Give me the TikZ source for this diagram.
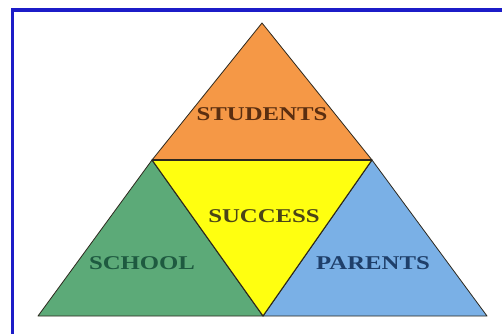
\documentclass[tikz,border=0pt]{standalone}
\usepackage{graphicx}
\usepackage{fontspec}
\setmainfont{Liberation Serif}
\definecolor{orangeF}{RGB}{245,152,70}
\definecolor{greenF}{RGB}{92,170,120}
\definecolor{blueF}{RGB}{122,176,230}
\definecolor{yellowF}{RGB}{255,255,16}
\definecolor{frameB}{RGB}{28,28,200}
\definecolor{edgeC}{RGB}{45,40,30}
\definecolor{txtS}{RGB}{90,46,16}
\definecolor{txtY}{RGB}{74,68,24}
\definecolor{txtG}{RGB}{30,90,64}
\definecolor{txtB}{RGB}{31,63,106}
\newcommand\stretchlbl[1]{\scalebox{1.27}[1]{#1}}
\tikzset{
  tri/.style={draw=edgeC, line width=0.8pt, line join=round},
  lbl/.style={inner sep=0pt, text depth=0pt, font=\fontsize{19.5}{20}\selectfont\bfseries, anchor=center}
}
\begin{document}
\begin{tikzpicture}[x=1pt,y=1pt]
\useasboundingbox (0,0) rectangle (502,333);
\fill[white] (0,0) rectangle (502,333);
% frame
\draw[frameB, line width=3pt] (12,-10) -- (12,323) -- (520,323);
% points
\coordinate (A) at (262,310);
\coordinate (L) at (152,173);
\coordinate (R) at (372,173);
\coordinate (BL) at (38,17);
\coordinate (BM) at (263,17);
\coordinate (BR) at (487,17);
% triangles
\filldraw[tri, fill=orangeF] (A) -- (L) -- (R) -- cycle;
\filldraw[tri, fill=greenF] (L) -- (BL) -- (BM) -- cycle;
\filldraw[tri, fill=blueF] (R) -- (BM) -- (BR) -- cycle;
\filldraw[tri, fill=yellowF, line width=1.1pt] (L) -- (R) -- (BM) -- cycle;
\draw[edgeC, line width=1.5pt] (L) -- (R);
% labels
\node[lbl, text=txtS] (students) at (262,219) {\stretchlbl{STUDENTS}};
\node[lbl, text=txtY] (success) at (264,117) {\stretchlbl{SUCCESS}};
\node[lbl, text=txtG] (school) at (142,70) {\stretchlbl{SCHOOL}};
\node[lbl, text=txtB] (parents) at (373,70) {\stretchlbl{PARENTS}};
\end{tikzpicture}
\end{document}
